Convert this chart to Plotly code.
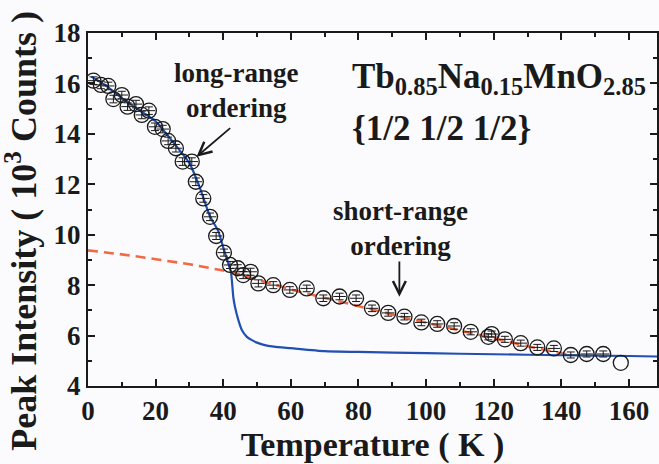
import plotly.graph_objects as go

# measured data points (Temperature K, intensity 10^3 counts)
T_data = [1.6, 3.8, 6.0, 7.5, 10.0, 11.7, 14.2, 15.9, 18.0, 19.8, 22.1, 23.7, 26.0,
          28.0, 30.7, 31.9, 34.1, 36.1, 37.9, 40.2, 42.0, 44.3, 45.9, 48.1, 50.4,
          54.8, 59.7, 64.7, 69.6, 74.4, 79.3, 84.0, 88.8, 93.6, 98.6, 103.3, 108.3,
          113.2, 118.4, 119.4, 123.3, 128.0, 132.9, 137.8, 142.8, 147.5, 152.4, 157.6]
I_data = [16.11, 15.94, 15.90, 15.38, 15.54, 15.08, 15.18, 14.75, 14.92, 14.28, 14.19, 13.72, 13.43,
          12.90, 12.90, 12.10, 11.44, 10.71, 9.95, 9.29, 8.80, 8.67, 8.40, 8.53, 8.07,
          8.00, 7.81, 7.87, 7.48, 7.55, 7.48, 7.08, 6.90, 6.75, 6.52, 6.46, 6.38,
          6.15, 5.95, 6.06, 5.85, 5.70, 5.53, 5.49, 5.23, 5.27, 5.27, 4.92]
I_err = [0.15, 0.15, 0.15, 0.15, 0.15, 0.15, 0.15, 0.15, 0.15, 0.15, 0.15, 0.15, 0.15,
         0.15, 0.15, 0.15, 0.15, 0.15, 0.14, 0.14, 0.14, 0.14, 0.14, 0.14, 0.14,
         0.14, 0.13, 0.13, 0.13, 0.13, 0.13, 0.13, 0.13, 0.13, 0.13, 0.13, 0.13,
         0.12, 0.12, 0.12, 0.12, 0.12, 0.12, 0.12, 0.12, 0.12, 0.12, 0.0]

# long-range ordering fit (blue)
T_fit = [1.0, 5, 10, 15, 20, 25, 30, 33, 36, 38.5, 40, 41.5, 42.3, 43, 43.5, 44.5, 45.5,
         47, 48.5, 50, 52, 55, 60, 70, 80, 100, 120, 140, 160, 168.3]
I_fit = [16.27, 15.94, 15.42, 14.95, 14.5, 13.7, 12.83, 11.9, 10.75, 10.15, 9.5, 8.86, 8.5,
         7.5, 7.12, 6.6, 6.22, 5.95, 5.82, 5.72, 5.63, 5.56, 5.5, 5.38, 5.35, 5.3, 5.26, 5.22, 5.19, 5.17]

# short-range ordering fit (red dashed)
T_sr = [0, 10, 20, 30, 40, 45, 50, 55, 60, 65, 70, 75, 80, 85, 90, 95, 100, 105, 110,
        115, 120, 125, 130, 135, 140, 143]
I_sr = [9.38, 9.22, 9.03, 8.83, 8.58, 8.42, 8.22, 8.02, 7.83, 7.66, 7.5, 7.33, 7.17, 7.0,
        6.84, 6.67, 6.51, 6.35, 6.2, 6.04, 5.88, 5.73, 5.58, 5.44, 5.3, 5.22]

x_ticks = [0, 20, 40, 60, 80, 100, 120, 140, 160]
y_ticks = [4, 6, 8, 10, 12, 14, 16, 18]

FONT = "Liberation Serif"
INK = "#1a1a1a"

fig = go.Figure()

fig.add_trace(go.Scatter(x=T_sr, y=I_sr, mode="lines",
                         line=dict(color="#f26a44", width=2.6, dash="10px,6px"),
                         hoverinfo="skip"))
fig.add_trace(go.Scatter(x=T_fit, y=I_fit, mode="lines",
                         line=dict(color="#2150b2", width=2.2, shape="spline", smoothing=0.6),
                         hoverinfo="skip"))

n = len(T_data) - 1
fig.add_trace(go.Scatter(x=T_data[:n], y=I_data[:n], mode="markers",
                         marker=dict(symbol="line-ew-open", size=9, color=INK,
                                     line=dict(color=INK, width=1)),
                         error_y=dict(type="data", array=I_err[:n], color=INK,
                                      thickness=1, width=4),
                         hoverinfo="skip"))
fig.add_trace(go.Scatter(x=T_data, y=I_data, mode="markers",
                         marker=dict(symbol="circle-open", size=15, color=INK,
                                     line=dict(color=INK, width=1.3))))

ann_font = dict(family=FONT, size=27, color=INK, weight="bold")
fig.add_annotation(x=43.8, y=15.7, text="long-range<br>ordering", showarrow=False,
                   font=ann_font, align="center")
fig.add_annotation(x=32.1, y=13.09, ax=42.5, ay=14.28, axref="x", ayref="y",
                   text="", showarrow=True, arrowhead=5, arrowsize=1.4,
                   arrowwidth=1.8, arrowcolor=INK)
fig.add_annotation(x=92.5, y=10.25, text="short-range<br>ordering", showarrow=False,
                   font=ann_font, align="center")
fig.add_annotation(x=92.1, y=7.54, ax=92.1, ay=9.0, axref="x", ayref="y",
                   text="", showarrow=True, arrowhead=5, arrowsize=1.4,
                   arrowwidth=1.8, arrowcolor=INK)

fig.add_annotation(x=77.4, y=16.2, xanchor="left", yanchor="middle",
                   text="Tb<sub>0.85</sub>Na<sub>0.15</sub>MnO<sub>2.85</sub>",
                   showarrow=False, align="left",
                   font=dict(family=FONT, size=35, color=INK, weight="bold"))
fig.add_annotation(x=77.4, y=14.2, xanchor="left", yanchor="middle",
                   text="{1/2 1/2 1/2}", showarrow=False, align="left",
                   font=dict(family=FONT, size=35, color=INK, weight="bold"))

# y-axis title as rotated annotation (centred lower than the plot area, as in the reference)
fig.add_annotation(xref="paper", yref="paper", x=-0.116, y=0.44,
                   text="Peak Intensity ( 10<sup>3</sup> Counts )", textangle=-90,
                   showarrow=False, xanchor="center", yanchor="middle",
                   font=dict(family=FONT, size=36, color=INK, weight="bold"))

axis_common = dict(showline=True, linewidth=2, linecolor=INK, mirror="ticks",
                   ticks="inside", ticklen=7, tickwidth=1.5, tickcolor=INK,
                   showgrid=False, zeroline=False,
                   tickfont=dict(family=FONT, size=27, color=INK, weight="bold"))

fig.update_xaxes(range=[0, 168.3], tickvals=x_ticks, ticktext=[str(v) for v in x_ticks],
                 minor=dict(dtick=10, ticks="inside", ticklen=4, tickwidth=1.5, tickcolor=INK),
                 title=dict(text="Temperature ( K )", standoff=10,
                            font=dict(family=FONT, size=34, color=INK, weight="bold")),
                 **axis_common)
fig.update_yaxes(range=[4, 18], tickvals=y_ticks, ticktext=[str(v) for v in y_ticks],
                 minor=dict(dtick=1, ticks="inside", ticklen=4, tickwidth=1.5, tickcolor=INK),
                 **axis_common)

fig.update_layout(width=659, height=464, showlegend=False,
                  margin=dict(l=88, r=2, t=33, b=78, autoexpand=False),
                  paper_bgcolor="#fbfbfd", plot_bgcolor="#fbfbfd",
                  font=dict(family=FONT, color=INK, weight="bold"))

fig.write_html("out.html")
